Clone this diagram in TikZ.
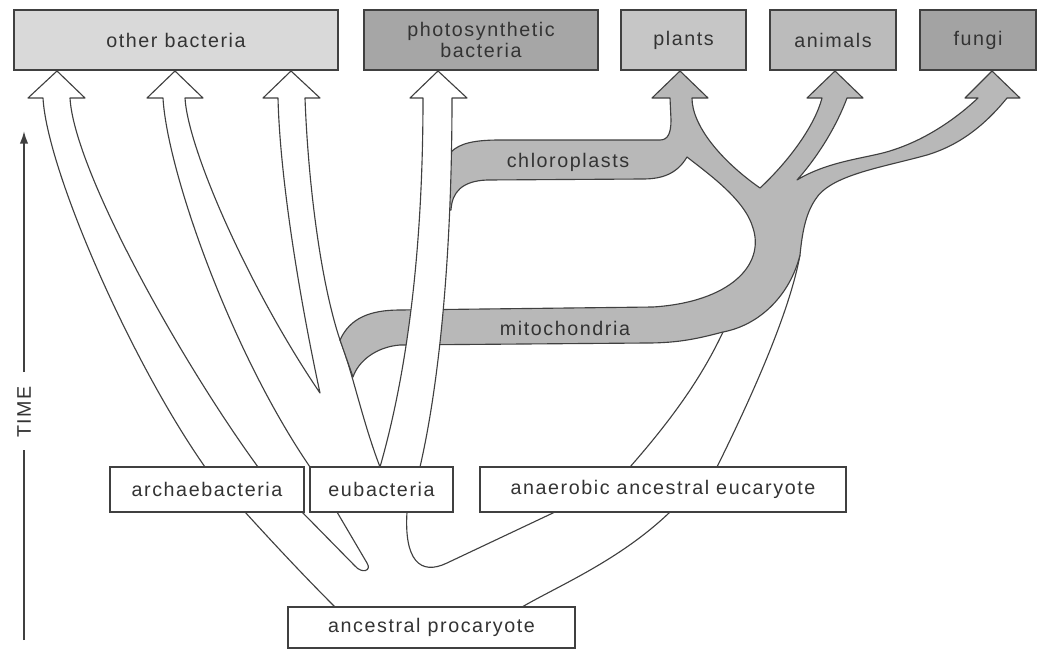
\documentclass[tikz,border=0pt]{standalone}
\usepackage{fontspec}
\setmainfont{Liberation Sans}
\newfontfamily\labfont[LetterSpace=8]{Liberation Sans}
\usetikzlibrary{arrows.meta}
\definecolor{edgec}{HTML}{404040}
\definecolor{txtc}{HTML}{333333}
\definecolor{bandgray}{HTML}{B8B8B8}
\definecolor{cOther}{HTML}{D9D9D9}
\definecolor{cPhoto}{HTML}{A6A6A6}
\definecolor{cPlants}{HTML}{C6C6C6}
\definecolor{cAnimals}{HTML}{BBBBBB}
\definecolor{cFungi}{HTML}{A3A3A3}
\tikzset{
  lab/.style={font=\labfont\fontsize{14}{17}\selectfont, text=txtc},
  topbox/.style={draw=edgec, line width=1.4pt, lab, inner sep=0pt, minimum height=1.5cm, align=center},
  botbox/.style={draw=edgec, line width=1.4pt, fill=white, lab, inner sep=0pt, minimum height=1.125cm},
  whiteband/.style={draw=edgec, line width=0.8pt, fill=white, line join=round},
  grayband/.style={draw=edgec, line width=0.8pt, fill=bandgray, line join=round},
  thinline/.style={draw=edgec, line width=0.8pt},
  bandlabel/.style={lab, inner sep=0pt}
}
\begin{document}
\begin{tikzpicture}[x=0.025cm, y=-0.025cm]
\useasboundingbox (0,0) rectangle (1040,651);

% eubacteria band: two arrows to other bacteria
\filldraw[whiteband] (310,467) .. controls (230,350) and (167,170) .. (163,98) -- (147,98) -- (175,71) -- (203,98) -- (185,98)
  .. controls (188,150) and (250,290) .. (320,393)
  .. controls (300,300) and (280,180) .. (278,98) -- (263,98) -- (291,71) -- (320,98) -- (305,98)
  .. controls (308,180) and (320,280) .. (340,340) .. controls (352,370) and (362,420) .. (380,467);

% archaebacteria arrow to other bacteria
\filldraw[whiteband] (205,467) .. controls (130,360) and (47,170) .. (43,98) -- (28,98) -- (57,71) -- (85,98) -- (70,98)
  .. controls (74,170) and (180,360) .. (258,467);

% trunk lines below the boxes
\draw[thinline] (245,512) .. controls (275,545) and (305,577) .. (335,607);
\draw[thinline] (302,512) -- (355,566) .. controls (362,574) and (372,571) .. (367,563) -- (337,512);
\draw[thinline] (407,512) .. controls (404,560) and (420,576) .. (447,563) -- (555,512);
\draw[thinline] (670,512) .. controls (620,560) and (560,585) .. (522,607);

% eucaryote band up to the gray trunk
\draw[thinline] (630,467) .. controls (680,410) and (705,370) .. (723,332);
\draw[thinline] (717,467) .. controls (755,390) and (790,310) .. (800,255);

% gray organelle / eucaryote trunk
\filldraw[grayband] (340,340) .. controls (350,318) and (370,310) .. (400,310) -- (653,307)
  .. controls (730,302) and (765,265) .. (753,228) .. controls (745,200) and (710,175) .. (687,157)
  .. controls (678,172) and (665,179) .. (643,179) -- (487,180) .. controls (462,181) and (452,192) .. (451,210)
  -- (438,210) -- (438,150) -- (451,152) .. controls (460,143) and (475,140) .. (500,140) -- (660,140)
  .. controls (668,140) and (671,133) .. (671,120) -- (670,98) -- (652,98) -- (680,71) -- (708,98) -- (692,98)
  .. controls (692,125) and (720,160) .. (760,188)
  .. controls (790,160) and (815,125) .. (822,98) -- (807,98) -- (835,71) -- (863,98) -- (847,98)
  .. controls (835,130) and (815,160) .. (797,180)
  .. controls (830,160) and (870,158) .. (893,150) .. controls (930,138) and (960,115) .. (978,98)
  -- (965,98) -- (992,71) -- (1020,98) -- (1007,98)
  .. controls (985,125) and (960,145) .. (927,155) .. controls (880,168) and (830,175) .. (815,200)
  .. controls (805,215) and (802,235) .. (800,255)
  .. controls (790,295) and (760,325) .. (723,332) .. controls (700,338) and (680,343) .. (647,343)
  -- (400,345) .. controls (375,347) and (358,362) .. (353,377) -- cycle;

% photosynthetic bacteria arrow
\filldraw[whiteband] (380,467) .. controls (405,380) and (423,260) .. (423,98) -- (410,98) -- (438,71) -- (467,98) -- (452,98)
  .. controls (452,250) and (440,380) .. (420,467);

% band labels
\node[bandlabel] (chl) at (568,162) {chloroplasts};
\node[bandlabel] (mit) at (565,328) {mitochondria};

% top boxes
\node[topbox, fill=cOther, minimum width=8.1cm] (other) at (176,40) {other bacteria};
\node[topbox, fill=cPhoto, minimum width=5.85cm] (photo) at (481,40) {photosynthetic\\[-2pt]bacteria};
\node[topbox, fill=cPlants, minimum width=3.125cm] (plants) at (683.5,40) {plants};
\node[topbox, fill=cAnimals, minimum width=3.15cm] (animals) at (833,40) {animals};
\node[topbox, fill=cFungi, minimum width=2.9cm] (fungi) at (978,40) {fungi};

% bottom boxes
\node[botbox, minimum width=4.85cm] (archae) at (207,489.5) {archaebacteria};
\node[botbox, minimum width=3.575cm] (eubac) at (381.5,489.5) {eubacteria};
\node[botbox, minimum width=9.15cm] (eucar) at (663,489.5) {anaerobic ancestral eucaryote};
\node[botbox, minimum width=7.175cm, minimum height=1.025cm] (procar) at (431.5,627.5) {ancestral procaryote};

% time axis
\node[lab, rotate=90, inner sep=0pt] (time) at (24,412) {TIME};
\coordinate (tlow) at (24,640);
\coordinate (tgap1) at (24,450);
\coordinate (tgap2) at (24,372);
\coordinate (ttop) at (24,131);
\draw[edgec, line width=1.2pt] (tlow) -- (tgap1);
\draw[edgec, line width=1.2pt, -{Latex[length=9pt,width=6pt]}] (tgap2) -- (ttop);
\end{tikzpicture}
\end{document}
